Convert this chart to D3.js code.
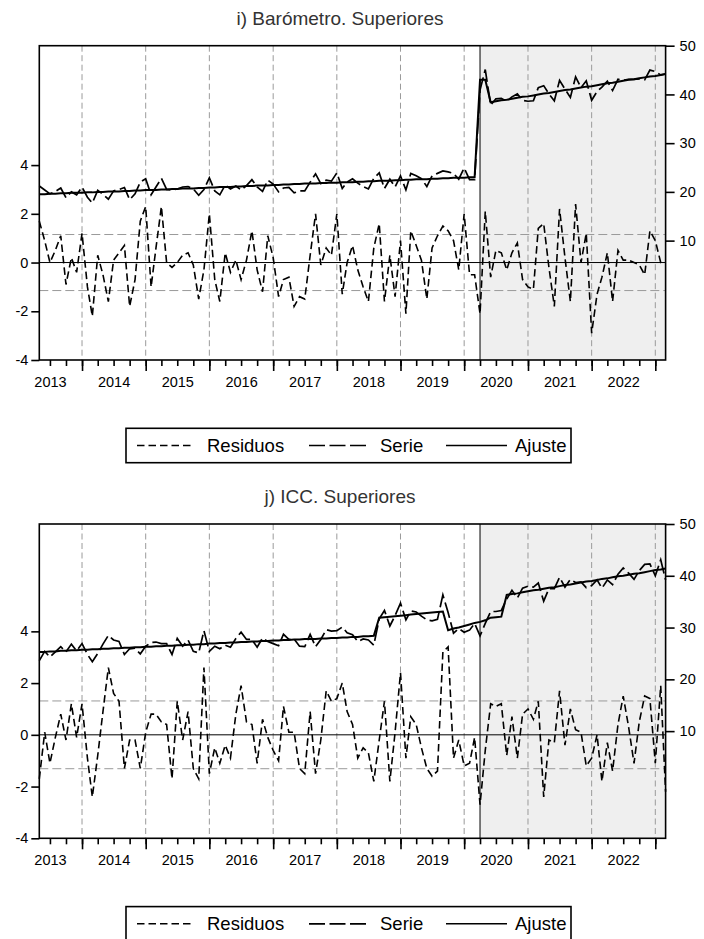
<!DOCTYPE html>
<html>
<head>
<meta charset="utf-8">
<script src="https://cdn.jsdelivr.net/npm/d3@7"></script>
<style>
  body { margin: 0; background: #fff; }
  svg { display: block; font-family: "Liberation Sans", Arial, sans-serif; }
</style>
</head>
<body>
<svg id="chart" width="704" height="939"></svg>
<script>
// ------------------------------------------------------------
//  Residuos / Serie / Ajuste, mensual 2013M05 - 2023M03
// ------------------------------------------------------------

var startMonth = new Date(2013, 4, 1),
    endMonth = new Date(2023, 2, 1),
    breakMonth = new Date(2020, 3, 1);

var yearLabels = [2013, 2014, 2015, 2016, 2017, 2018, 2019, 2020, 2021, 2022];
var leftTicks = [-4, -2, 0, 2, 4];
var rightTicks = [10, 20, 30, 40, 50];
var legendLabels = ["Residuos", "Serie", "Ajuste"];

// i) Barómetro. Superiores
var baroResid = [1.7, 0.9, 0.0, 0.5, 1.1, -0.9, 0.2, -0.4, 1.2, -1.0, -2.2, 0.3, -0.5, -1.6, 0.1, 0.4, 0.7, -1.8, -0.7, 1.7,
  2.3, -1.0, 0.6, 2.3, 0.0, -0.2, 0.0, 0.3, 0.4, -0.1, -1.5, -0.3, 2.0, -0.7, -1.6, 0.4, -0.4, 0.1, -0.7, 0.1,
  1.3, -0.3, -1.2, 1.1, 0.2, -1.4, -0.7, -0.6, -1.8, -1.4, -1.5, 0.3, 2.0, -0.1, 0.6, 0.3, 2.0, -1.3, 0.0, 0.7,
  -0.3, -1.0, -1.6, 0.6, 1.6, -1.6, 0.3, -1.4, 0.9, -2.1, 1.3, 0.7, 0.1, -1.5, 0.6, 1.1, 1.5, 1.3, 0.9, -0.3,
  2.0, -0.5, -0.5, -2.1, 2.1, -0.6, 0.5, 0.4, -0.3, 0.4, 0.8, -0.7, -1.0, -1.1, 1.4, 1.6, -0.2, -1.8, 2.2, 0.2,
  -1.6, 2.4, 0.0, 1.2, -2.9, -1.3, -0.6, 0.4, -1.6, 0.5, 0.1, 0.1, 0.0, -0.1, -0.5, 1.3, 0.9, 0.0, 0.0];
var baroSerie = [21.2, 20.4, 19.6, 20.1, 20.8, 18.8, 20.0, 19.4, 21.0, 18.9, 17.7, 20.3, 19.5, 18.5, 20.2, 20.5, 20.9, 18.4, 19.6, 22.0,
  22.7, 19.4, 21.0, 22.8, 20.5, 20.4, 20.6, 21.0, 21.1, 20.6, 19.3, 20.5, 22.9, 20.2, 19.4, 21.4, 20.6, 21.2, 20.4, 21.3,
  22.5, 21.0, 20.1, 22.4, 21.6, 20.0, 20.8, 20.9, 19.8, 20.2, 20.2, 22.0, 23.7, 21.7, 22.4, 22.2, 23.9, 20.7, 22.0, 22.7,
  21.8, 21.1, 20.6, 22.8, 23.9, 20.7, 22.6, 21.0, 23.3, 20.4, 23.8, 23.3, 22.7, 21.1, 23.3, 23.8, 24.3, 24.1, 23.8, 22.6,
  24.9, 22.5, 22.5, 40.9, 45.1, 37.8, 39.1, 39.2, 38.6, 39.5, 40.1, 38.8, 38.6, 38.7, 41.4, 41.8, 40.1, 38.7, 42.9, 41.1,
  39.4, 43.6, 41.4, 42.8, 38.8, 40.6, 41.5, 42.7, 40.8, 43.1, 42.9, 43.1, 43.1, 43.2, 43.0, 45.0, 44.7, 44.0, 44.2];
var baroAjuste = [19.5, 19.5, 19.6, 19.6, 19.7, 19.7, 19.8, 19.8, 19.8, 19.9, 19.9, 20.0, 20.0, 20.1, 20.1, 20.1, 20.2, 20.2, 20.3, 20.3,
  20.4, 20.4, 20.4, 20.5, 20.5, 20.6, 20.6, 20.7, 20.7, 20.7, 20.8, 20.8, 20.9, 20.9, 21.0, 21.0, 21.0, 21.1, 21.1, 21.2,
  21.2, 21.3, 21.3, 21.3, 21.4, 21.4, 21.5, 21.5, 21.6, 21.6, 21.7, 21.7, 21.7, 21.8, 21.8, 21.9, 21.9, 22.0, 22.0, 22.0,
  22.1, 22.1, 22.2, 22.2, 22.3, 22.3, 22.3, 22.4, 22.4, 22.5, 22.5, 22.6, 22.6, 22.6, 22.7, 22.7, 22.8, 22.8, 22.9, 22.9,
  22.9, 23.0, 23.0, 43.0, 43.0, 38.4, 38.6, 38.8, 38.9, 39.1, 39.3, 39.5, 39.6, 39.8, 40.0, 40.2, 40.3, 40.5, 40.7, 40.9,
  41.0, 41.2, 41.4, 41.6, 41.7, 41.9, 42.1, 42.3, 42.4, 42.6, 42.8, 43.0, 43.1, 43.3, 43.5, 43.7, 43.8, 44.0, 44.2];
var baroBand = 1.15;

// j) ICC. Superiores
var iccResid = [-1.7, 0.1, -1.1, -0.1, 0.8, -0.2, 1.2, -0.1, 1.2, -0.9, -2.4, -0.8, 0.9, 2.6, 1.6, 1.3, -1.3, -0.2, -0.2, -1.3,
  0.1, 0.8, 0.8, 0.5, 0.4, -1.7, 1.3, -0.2, 0.9, -1.3, -1.7, 2.6, -1.5, -0.5, -1.1, -0.4, -0.9, 0.8, 1.9, 0.5,
  0.4, -1.1, 0.6, -0.1, -0.6, -1.0, 1.1, 0.1, 0.1, -1.3, -1.5, 0.9, -1.5, -0.2, 1.7, 1.3, 1.4, 2.0, 0.9, 0.4,
  -0.9, -0.5, -0.7, -1.8, -0.2, 1.3, -1.8, 0.1, 2.4, -0.9, 0.7, 0.4, -0.5, -1.3, -1.6, -1.4, 3.2, 3.4, -0.9, -0.2,
  -1.2, -1.1, -0.1, -2.7, -0.6, 1.2, 1.1, 1.2, -0.8, 0.7, -0.9, 0.8, 1.0, 0.6, 1.3, -2.4, -0.2, -0.3, 1.7, -0.4,
  1.0, 0.2, 0.1, -1.2, -0.9, 0.0, -1.8, -0.3, -1.4, 0.4, 1.5, 0.3, -1.1, 0.5, 1.5, 1.4, -1.1, 1.9, -2.2];
var iccSerie = [23.6, 25.4, 24.3, 25.3, 26.3, 25.3, 26.8, 25.5, 26.9, 24.8, 23.4, 25.0, 26.8, 28.5, 27.6, 27.3, 24.8, 25.9, 26.0, 24.9,
  26.4, 27.1, 27.2, 26.9, 26.9, 24.8, 27.9, 26.4, 27.6, 25.4, 25.1, 29.4, 25.4, 26.4, 25.9, 26.6, 26.2, 27.9, 29.1, 27.7,
  27.7, 26.2, 28.0, 27.3, 26.9, 26.5, 28.7, 27.7, 27.8, 26.4, 26.3, 28.7, 26.3, 27.7, 29.6, 29.3, 29.4, 30.1, 29.0, 28.6,
  27.3, 27.8, 27.6, 26.6, 31.7, 33.3, 30.3, 32.3, 34.7, 31.5, 33.2, 33.0, 32.2, 31.5, 31.3, 31.6, 36.3, 32.9, 28.9, 29.8,
  29.1, 29.5, 30.8, 28.4, 30.8, 33.1, 33.1, 33.3, 35.5, 37.2, 35.7, 37.6, 38.0, 37.8, 38.6, 35.1, 37.5, 37.5, 39.7, 37.8,
  39.3, 38.7, 38.8, 37.7, 38.1, 39.2, 37.6, 39.2, 38.3, 40.3, 41.5, 40.5, 39.3, 41.0, 42.2, 42.3, 40.0, 43.1, 39.2];
var iccAjuste = [25.3, 25.3, 25.4, 25.4, 25.5, 25.5, 25.6, 25.6, 25.7, 25.7, 25.8, 25.8, 25.9, 25.9, 26.0, 26.0, 26.1, 26.1, 26.2, 26.2,
  26.3, 26.3, 26.4, 26.4, 26.5, 26.5, 26.6, 26.6, 26.7, 26.7, 26.8, 26.8, 26.9, 26.9, 27.0, 27.0, 27.1, 27.1, 27.2, 27.2,
  27.3, 27.3, 27.4, 27.4, 27.5, 27.5, 27.6, 27.6, 27.7, 27.7, 27.8, 27.8, 27.8, 27.9, 27.9, 28.0, 28.0, 28.1, 28.1, 28.2,
  28.2, 28.3, 28.3, 28.4, 31.9, 32.0, 32.1, 32.2, 32.3, 32.4, 32.5, 32.6, 32.7, 32.8, 32.9, 33.0, 33.1, 29.5, 29.8, 30.0,
  30.3, 30.6, 30.9, 31.1, 31.4, 31.9, 32.0, 32.1, 36.3, 36.5, 36.6, 36.8, 37.0, 37.2, 37.3, 37.5, 37.7, 37.8, 38.0, 38.2,
  38.3, 38.5, 38.7, 38.9, 39.0, 39.2, 39.4, 39.5, 39.7, 39.9, 40.0, 40.2, 40.4, 40.5, 40.7, 40.9, 41.1, 41.2, 41.4];
var iccBand = 1.31;

var months = d3.timeMonth.range(startMonth, d3.timeMonth.offset(endMonth, 1));

var svg = d3.select("#chart");
var left = 39.3, right = 665.6, panelH = 314.3;

var x = d3.scaleTime().domain([startMonth, endMonth]).range([left, right]);

var dashResid = "7.5,4", dashSerie = "16,4.5";

function drawPanel(top, title, resid, serie, ajuste, band, leftDomain, rightDomain) {
  var g = svg.append("g").attr("transform", `translate(0,${top})`);
  var yL = d3.scaleLinear().domain(leftDomain).range([panelH, 0]);
  var yR = d3.scaleLinear().domain(rightDomain).range([panelH, 0]);

  // titulo
  g.append("text")
    .attr("x", 340).attr("y", -20.7)
    .attr("text-anchor", "middle")
    .attr("font-size", 19).attr("fill", "#333")
    .text(title);

  // zona sombreada desde la ruptura
  g.append("rect")
    .attr("x", x(breakMonth)).attr("y", 0)
    .attr("width", right - x(breakMonth)).attr("height", panelH)
    .attr("fill", "#efefef");

  // rejilla vertical (enero de cada año)
  var janTicks = d3.timeYear.range(new Date(2014, 0, 1), d3.timeMonth.offset(endMonth, 1));
  g.selectAll(".vgrid").data(janTicks).enter().append("line")
    .attr("x1", d => x(d)).attr("x2", d => x(d))
    .attr("y1", 0).attr("y2", panelH)
    .attr("stroke", "#9a9a9a").attr("stroke-width", 1)
    .attr("stroke-dasharray", "6,3.5");

  // bandas +-1 desviación típica
  g.selectAll(".band").data([band, -band]).enter().append("line")
    .attr("x1", left).attr("x2", right)
    .attr("y1", d => yL(d)).attr("y2", d => yL(d))
    .attr("stroke", "#9a9a9a").attr("stroke-width", 1)
    .attr("stroke-dasharray", "9,4");

  // línea de cero
  g.append("line")
    .attr("x1", left).attr("x2", right)
    .attr("y1", yL(0)).attr("y2", yL(0))
    .attr("stroke", "#000").attr("stroke-width", 1);

  // ruptura
  g.append("line")
    .attr("x1", x(breakMonth)).attr("x2", x(breakMonth))
    .attr("y1", 0).attr("y2", panelH)
    .attr("stroke", "#000").attr("stroke-width", 1);

  var lineL = d3.line().x((d, i) => x(months[i])).y(d => yL(d));
  var lineR = d3.line().x((d, i) => x(months[i])).y(d => yR(d));

  g.append("path").datum(resid)
    .attr("d", lineL).attr("fill", "none")
    .attr("stroke", "#000").attr("stroke-width", 1.6)
    .attr("stroke-dasharray", dashResid);

  g.append("path").datum(serie)
    .attr("d", lineR).attr("fill", "none")
    .attr("stroke", "#000").attr("stroke-width", 1.7)
    .attr("stroke-dasharray", dashSerie);

  g.append("path").datum(ajuste)
    .attr("d", lineR).attr("fill", "none")
    .attr("stroke", "#000").attr("stroke-width", 2);

  // marco
  g.append("rect")
    .attr("x", left).attr("y", 0)
    .attr("width", right - left).attr("height", panelH)
    .attr("fill", "none").attr("stroke", "#000").attr("stroke-width", 1.6);

  // ejes
  var axMinor = g.append("g").attr("transform", `translate(0,${panelH})`)
    .call(d3.axisBottom(x).tickValues(d3.timeMonth.every(3).range(startMonth, d3.timeMonth.offset(endMonth, 1)))
      .tickSize(6).tickFormat(""));
  var axMajor = g.append("g").attr("transform", `translate(0,${panelH})`)
    .call(d3.axisBottom(x).tickValues(janTicks).tickSize(11).tickFormat(""));
  var axYears = g.append("g").attr("transform", `translate(0,${panelH})`)
    .call(d3.axisBottom(x).tickValues(yearLabels.map(y => new Date(y, 6, 1)))
      .tickSize(0).tickPadding(16.4).tickFormat(d3.timeFormat("%Y")));
  var axL = g.append("g").attr("transform", `translate(${left},0)`)
    .call(d3.axisLeft(yL).tickValues(leftTicks).tickSize(8).tickPadding(3).tickFormat(d => String(d)));
  var axR = g.append("g").attr("transform", `translate(${right},0)`)
    .call(d3.axisRight(yR).tickValues(rightTicks).tickSize(9).tickPadding(5).tickFormat(d => String(d)));

  [axMinor, axMajor, axYears, axL, axR].forEach(function (a) {
    a.select(".domain").remove();
    a.selectAll("line").attr("stroke", "#000").attr("stroke-width", 1.6);
    a.selectAll("text").attr("font-size", 14.5).attr("fill", "#000")
      .attr("font-family", "'Liberation Sans', Arial, sans-serif");
  });

  // leyenda
  var lg = g.append("g").attr("transform", `translate(0,${panelH + 68.3})`);
  lg.append("rect")
    .attr("x", 126).attr("y", 0).attr("width", 445).attr("height", 34.4)
    .attr("fill", "#fff").attr("stroke", "#000").attr("stroke-width", 1.6);
  var items = [
    { label: legendLabels[0], x1: 137, x2: 194, tx: 207, dash: dashResid, w: 1.6 },
    { label: legendLabels[1], x1: 309, x2: 369, tx: 380, dash: dashSerie, w: 1.7 },
    { label: legendLabels[2], x1: 446, x2: 507, tx: 515, dash: null, w: 1.6 }
  ];
  items.forEach(function (it) {
    lg.append("line")
      .attr("x1", it.x1).attr("x2", it.x2).attr("y1", 17.2).attr("y2", 17.2)
      .attr("stroke", "#000").attr("stroke-width", it.w)
      .attr("stroke-dasharray", it.dash);
    lg.append("text")
      .attr("x", it.tx).attr("y", 17.2).attr("dy", "0.35em")
      .attr("font-size", 18.5).attr("fill", "#000")
      .text(it.label);
  });
}

drawPanel(45.7, "i)  Barómetro. Superiores", baroResid, baroSerie, baroAjuste, baroBand, [-4, 8.9], [-14.5, 50]);
drawPanel(524, "j)  ICC. Superiores", iccResid, iccSerie, iccAjuste, iccBand, [-4, 8.15], [-10.7, 50]);
</script>
</body>
</html>
